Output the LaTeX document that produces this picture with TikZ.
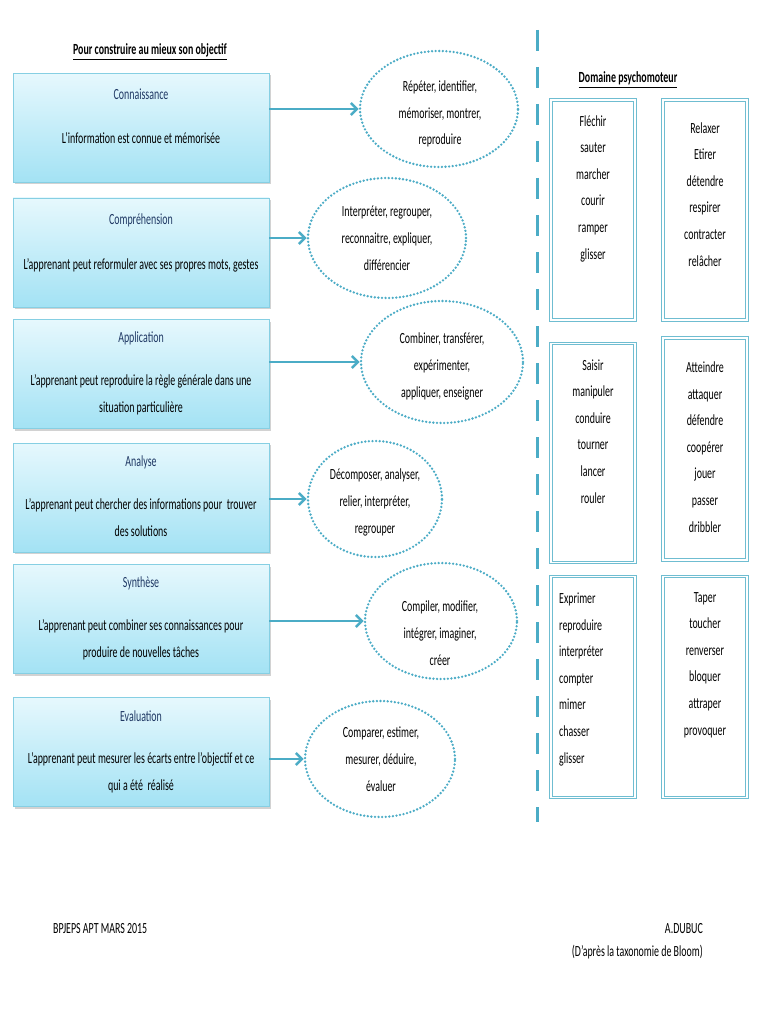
\documentclass[tikz,border=0pt]{standalone}
\usepackage{fontspec}
\setmainfont[FakeStretch=0.64]{Carlito}
\usetikzlibrary{shapes.geometric,arrows.meta,shadows}
\definecolor{acc}{HTML}{4BACC6}
\definecolor{boxtop}{HTML}{E6F8FD}
\definecolor{boxbot}{HTML}{A3E2F4}
\definecolor{boxline}{HTML}{86CFE3}
\definecolor{headblue}{HTML}{1F3864}
\begin{document}
\begin{tikzpicture}[x=1pt,y=-1pt,
  every node/.style={font=\fontsize{15.5}{26.6}\selectfont, inner sep=0pt},
  lbox/.style={rectangle, minimum width=256pt, minimum height=109pt,
    top color=boxtop, bottom color=boxbot, draw=boxline, line width=0.8pt,
    drop shadow={shadow xshift=1.5pt, shadow yshift=-2pt, opacity=0.35}},
  head/.style={text=headblue, anchor=base},
  body/.style={align=center, anchor=base},
  ell/.style={ellipse, draw=acc, line width=2.6pt, dash pattern=on 0pt off 3.6pt, line cap=round},
  etext/.style={align=center, anchor=base},
  arr/.style={draw=acc, line width=2.6pt, -{Straight Barb[length=6pt,width=12pt]}},
  rbox/.style={rectangle, minimum width=84pt, minimum height=220pt, draw=acc!80, line width=1pt,
    double=white, double distance=1.4pt, fill=white,
    drop shadow={shadow xshift=1.2pt, shadow yshift=-1.5pt, opacity=0.25}},
  rtext/.style={align=center, anchor=base},
  ttl/.style={font=\fontsize{15.5}{26.6}\selectfont\bfseries, anchor=base}
]
\fill[white] (0,0) rectangle (768,1024);
\useasboundingbox (0,0) rectangle (768,1024);

% titles
\node[ttl] (title) at (150,55) {\underline{Pour construire au mieux son objectif}};
\node[ttl] (title2) at (628,83) {\underline{Domaine psychomoteur}};

% left boxes
\node[lbox] (b1) at (141,128) {};
\node[lbox] (b2) at (141,252.5) {};
\node[lbox] (b3) at (141,374) {};
\node[lbox] (b4) at (141,497.5) {};
\node[lbox] (b5) at (141,619) {};
\node[lbox] (b6) at (141,752) {};

\node[head] (h1) at (141,100) {Connaissance};
\node[body] (t1) at (141,144) {L’information est connue et mémorisée};
\node[head] (h2) at (141,225) {Compréhension};
\node[body] (t2) at (141,269) {L’apprenant peut reformuler avec ses propres mots, gestes};
\node[head] (h3) at (141,342) {Application};
\node[body] (t3) at (141,412) {L’apprenant peut reproduire la règle générale dans une\\situation particulière};
\node[head] (h4) at (141,466) {Analyse};
\node[body] (t4) at (141,536) {L’apprenant peut chercher des informations pour~ trouver\\des solutions};
\node[head] (h5) at (141,587) {Synthèse};
\node[body] (t5) at (141,657) {L’apprenant peut combiner ses connaissances pour\\produire de nouvelles tâches};
\node[head] (h6) at (141,721) {Evaluation};
\node[body] (t6) at (141,790) {L’apprenant peut mesurer les écarts entre l’objectif et ce\\qui a été~ réalisé};

% ellipses
\node[ell, minimum width=158pt, minimum height=116pt] (e1) at (439,109) {};
\node[ell, minimum width=158pt, minimum height=120pt] (e2) at (387,238) {};
\node[ell, minimum width=162pt, minimum height=122pt] (e3) at (442,362) {};
\node[ell, minimum width=134pt, minimum height=116pt] (e4) at (375,499) {};
\node[ell, minimum width=152pt, minimum height=116pt] (e5) at (441,621) {};
\node[ell, minimum width=150pt, minimum height=116pt] (e6) at (380,759) {};

\node[etext] (et1) at (440,145) {Répéter, identifier,\\mémoriser, montrer,\\reproduire};
\node[etext] (et2) at (387,270) {Interpréter, regrouper,\\reconnaitre, expliquer,\\différencier};
\node[etext] (et3) at (442,397) {Combiner, transférer,\\expérimenter,\\appliquer, enseigner};
\node[etext] (et4) at (375,533) {Décomposer, analyser,\\relier, interpréter,\\regrouper};
\node[etext] (et5) at (440,665) {Compiler, modifier,\\intégrer, imaginer,\\créer};
\node[etext] (et6) at (381,791) {Comparer, estimer,\\mesurer, déduire,\\évaluer};

% arrows
\draw[arr] (b1.east |- e1.west) -- (e1.west);
\draw[arr] (b2.east |- e2.west) -- (e2.west);
\draw[arr] (b3.east |- e3.west) -- (e3.west);
\draw[arr] (b4.east |- e4.west) -- (e4.west);
\draw[arr] (b5.east |- e5.west) -- (e5.west);
\draw[arr] (b6.east |- e6.west) -- (e6.west);

% vertical dashed separator
\coordinate (s1) at (537,30);
\coordinate (s2) at (537,822);
\draw[acc, line width=3pt, dash pattern=on 21pt off 16pt] (s1) -- (s2);

% right boxes
\node[rbox] (r1) at (593,210) {};
\node[rbox] (r2) at (705,210) {};
\node[rbox, minimum height=219pt] (r3) at (593,453) {};
\node[rbox, minimum height=222pt] (r4) at (705,449) {};
\node[rbox, minimum height=221pt] (r5) at (593,687) {};
\node[rbox, minimum height=221pt] (r6) at (705,687) {};

\node[rtext] (rt1) at (593,259) {Fléchir\\sauter\\marcher\\courir\\ramper\\glisser};
\node[rtext] (rt2) at (705,266) {Relaxer\\Etirer\\détendre\\respirer\\contracter\\relâcher};
\node[rtext] (rt3) at (593,503) {Saisir\\manipuler\\conduire\\tourner\\lancer\\rouler};
\node[rtext] (rt4) at (705,532) {Atteindre\\attaquer\\défendre\\coopérer\\jouer\\passer\\dribbler};
\node[align=left, anchor=base west] (rt5) at (559,763) {Exprimer\\reproduire\\interpréter\\compter\\mimer\\chasser\\glisser};
\node[rtext] (rt6) at (705,735) {Taper\\toucher\\renverser\\bloquer\\attraper\\provoquer};

% footer
\node[anchor=base west] (f1) at (53,933) {BPJEPS APT MARS 2015};
\node[align=right, anchor=base east, font=\fontsize{15.5}{23}\selectfont] (f2) at (703,956) {A.DUBUC\\(D’après la taxonomie de Bloom)};
\end{tikzpicture}
\end{document}
